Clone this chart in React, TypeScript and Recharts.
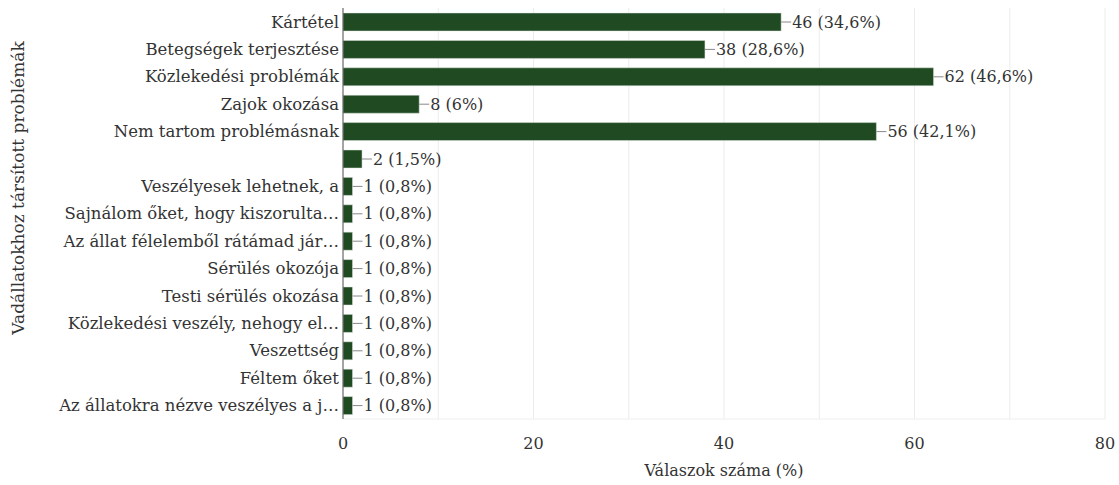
import React from "react";
import { BarChart, Bar, XAxis, YAxis, CartesianGrid, LabelList } from "recharts";

const categories = [
  "Kártétel",
  "Betegségek terjesztése",
  "Közlekedési problémák",
  "Zajok okozása",
  "Nem tartom problémásnak",
  "",
  "Veszélyesek lehetnek, a",
  "Sajnálom őket, hogy kiszorulta…",
  "Az állat félelemből rátámad jár…",
  "Sérülés okozója",
  "Testi sérülés okozása",
  "Közlekedési veszély, nehogy el…",
  "Veszettség",
  "Féltem őket",
  "Az állatokra nézve veszélyes a j…",
];
const counts = [46, 38, 62, 8, 56, 2, 1, 1, 1, 1, 1, 1, 1, 1, 1];
const percents = ["34,6", "28,6", "46,6", "6", "42,1", "1,5", "0,8", "0,8", "0,8", "0,8", "0,8", "0,8", "0,8", "0,8", "0,8"];
const xTicks = [0, 10, 20, 30, 40, 50, 60, 70, 80];
const xLabelTicks = [0, 20, 40, 60, 80];

const data = categories.map((c, i) => ({
  key: `${i}`,
  name: c,
  value: counts[i],
  label: `${counts[i]} (${percents[i]}%)`,
}));

const FONT = '"DejaVu Serif", "Liberation Serif", Tinos, "Times New Roman", Times, serif';
const FS = 16;
const TEXT = "#333";
const GREEN = "#1f4a22";
const txtStyle = { fontFamily: FONT };

const ValueLabel = (props: any) => {
  const { x, y, width, height, index } = props;
  const xe = Number(x) + Number(width);
  const yc = Number(y) + Number(height) / 2;
  return (
    <g>
      <line x1={xe} x2={xe + 10} y1={yc} y2={yc} stroke="#888" strokeWidth={1} />
      <text x={xe + 11} y={yc} dy="0.35em" style={txtStyle} fontSize={FS} fill={TEXT}>
        {data[index].label}
      </text>
    </g>
  );
};

export default function App() {
  return (
    <div style={{ position: "absolute", left: 0, top: 0, background: "#fff", fontFamily: FONT }}>
      <BarChart
        width={1119}
        height={485}
        data={data}
        layout="vertical"
        margin={{ top: 8, right: 14, bottom: 6, left: 0 }}
        barCategoryGap={5}
        style={txtStyle}
      >
        <CartesianGrid horizontal={false} stroke="#ececec" />
        <XAxis
          type="number"
          domain={[0, 80]}
          ticks={xTicks}
          interval={0}
          tickFormatter={(v: number) => (xLabelTicks.includes(v) ? String(v) : "")}
          tickLine={false}
          axisLine={{ stroke: "#eeeeee" }}
          tickMargin={13}
          height={60}
          tick={{ fontSize: FS, fill: TEXT, style: txtStyle }}
          label={{
            content: (p: any) => {
              const vb = p.viewBox || {};
              return (
                <text
                  x={Number(vb.x) + Number(vb.width) / 2}
                  y={470}
                  dy="0.35em"
                  textAnchor="middle"
                  style={txtStyle}
                  fontSize={FS}
                  fill={TEXT}
                >
                  Válaszok száma (%)
                </text>
              );
            },
          }}
        />
        <YAxis
          type="category"
          dataKey="key"
          width={343}
          interval={0}
          tickLine={false}
          tickSize={0}
          axisLine={{ stroke: "#555" }}
          tickMargin={4}
          tickFormatter={(v: string) => data[Number(v)].name}
          tick={{ fontSize: 16.5, fill: TEXT, style: txtStyle }}
          label={{
            content: () => {
              const cy = 188;
              return (
                <text
                  x={18}
                  y={cy}
                  dy="0.35em"
                  textAnchor="middle"
                  transform={`rotate(-90, 18, ${cy})`}
                  style={txtStyle}
                  fontSize={17}
                  fill={TEXT}
                >
                  Vadállatokhoz társított problémák
                </text>
              );
            },
          }}
        />
        <Bar dataKey="value" fill={GREEN} stroke="#dfe6df" strokeWidth={0.5} isAnimationActive={false} barSize={18}>
          <LabelList dataKey="value" content={ValueLabel} />
        </Bar>
      </BarChart>
    </div>
  );
}
